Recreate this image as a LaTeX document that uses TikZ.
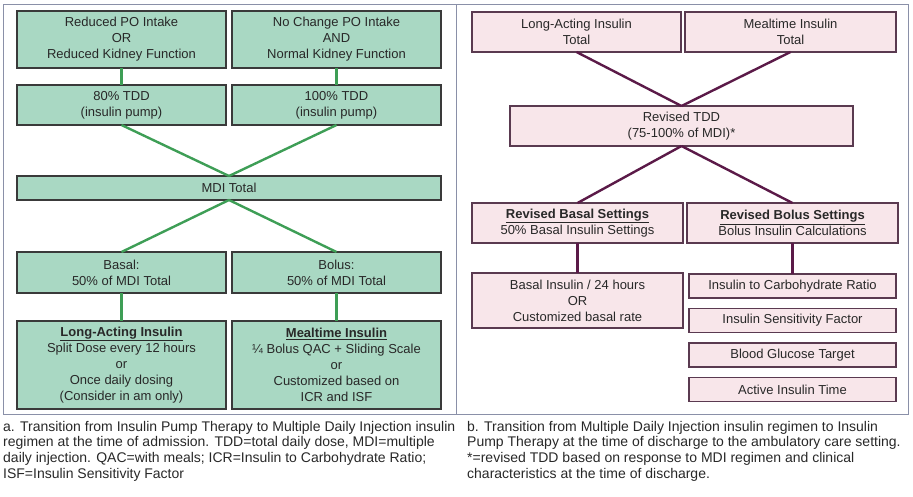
\documentclass[tikz,border=0pt]{standalone}
\usepackage{fontspec}
\setmainfont{Liberation Sans}
\usetikzlibrary{positioning,calc}
\definecolor{mint}{RGB}{169,216,195}
\definecolor{mintline}{RGB}{62,158,86}
\definecolor{blush}{RGB}{248,230,234}
\definecolor{plum}{RGB}{91,26,72}
\definecolor{plumedge}{RGB}{90,58,80}
\definecolor{edge}{RGB}{58,58,58}
\definecolor{frame}{RGB}{138,144,168}
\definecolor{ink}{RGB}{40,40,40}

\begin{document}
\begin{tikzpicture}[
    x=1pt,
    y=-1pt,
    every node/.style={font=\fontsize{13}{16}\selectfont, text=ink},
    box/.style={
        line width=1.3pt,
        inner sep=0pt,
        outer sep=0pt,
        align=center,
        minimum width=209pt
    },
    gbox/.style={box, draw=edge, fill=mint},
    pbox/.style={box, draw=plumedge, fill=blush},
    gline/.style={draw=mintline, line width=2.4pt},
    pline/.style={draw=plum, line width=2.4pt},
    panel/.style={draw=frame, line width=1pt},
    caption/.style={
        font=\fontsize{14}{15.6}\selectfont,
        align=left,
        inner sep=0pt,
        anchor=north west
    }
]

\useasboundingbox (0,0) rectangle (913,496);

% panels
\draw[panel] (3,4) rectangle (456,414);
\draw[panel] (456,4) rectangle (908,414);

% a. pump -> MDI
\node[
    gbox,
    minimum height=57pt,
    anchor=north west
] (reduced) at (17,11)
{Reduced PO Intake\\OR\\Reduced Kidney Function};

\node[
    gbox,
    minimum height=57pt,
    right=6pt of reduced
] (nochange)
{No Change PO Intake\\AND\\Normal Kidney Function};

\node[
    gbox,
    minimum height=40pt,
    below=17pt of reduced
] (tddeighty)
{80\% TDD\\(insulin pump)};

\node[
    gbox,
    minimum height=40pt,
    below=17pt of nochange
] (tddhundred)
{100\% TDD\\(insulin pump)};

\coordinate (tddmid) at ($(tddeighty.south)!0.5!(tddhundred.south)$);

\node[
    gbox,
    minimum width=424pt,
    minimum height=24pt,
    below=51pt of tddmid
] (mditotal)
{MDI Total};

\coordinate (basalref) at (mditotal.south -| tddeighty.south);
\coordinate (bolusref) at (mditotal.south -| tddhundred.south);

\node[
    gbox,
    minimum height=41pt,
    below=52pt of basalref
] (basal)
{Basal:\\50\% of MDI Total};

\node[
    gbox,
    minimum height=41pt,
    below=52pt of bolusref
] (bolus)
{Bolus:\\50\% of MDI Total};

\node[
    gbox,
    minimum height=88pt,
    below=28pt of basal
] (longacting)
{\underline{\textbf{Long-Acting Insulin}}\\Split Dose every 12 hours\\or\\Once daily dosing\\(Consider in am only)};

\node[
    gbox,
    minimum height=88pt,
    below=28pt of bolus
] (mealtime)
{\underline{\textbf{Mealtime Insulin}}\\¼ Bolus QAC + Sliding Scale\\or\\Customized based on\\ICR and ISF};

\draw[gline] (reduced) -- (tddeighty);
\draw[gline] (nochange) -- (tddhundred);
\draw[gline] (tddeighty.south) -- (mditotal.north);
\draw[gline] (tddhundred.south) -- (mditotal.north);
\draw[gline] (mditotal.south) -- (basal.north);
\draw[gline] (mditotal.south) -- (bolus.north);
\draw[gline] (basal) -- (longacting);
\draw[gline] (bolus) -- (mealtime);

% b. MDI -> pump
\node[
    pbox,
    minimum height=40pt,
    anchor=north west
] (longtotal) at (472,12)
{Long-Acting Insulin\\Total};

\node[
    pbox,
    minimum width=211pt,
    minimum height=40pt,
    right=4pt of longtotal
] (mealtotal)
{Mealtime Insulin\\Total};

\node[
    pbox,
    minimum width=343pt,
    minimum height=40pt,
    anchor=north
] (revised) at (681.5,106)
{Revised TDD\\(75-100\% of MDI)*};

\node[
    pbox,
    minimum width=211pt,
    minimum height=40pt,
    anchor=north west
] (basalset) at (472,203)
{\underline{\textbf{Revised Basal Settings}}\\50\% Basal Insulin Settings};

\node[
    pbox,
    minimum width=211pt,
    minimum height=40pt,
    right=4pt of basalset
] (bolusset)
{\underline{\textbf{Revised Bolus Settings}}\\Bolus Insulin Calculations};

\node[
    pbox,
    minimum width=211pt,
    minimum height=55pt,
    below=30pt of basalset
] (basalrate)
{Basal Insulin / 24 hours\\OR\\Customized basal rate};

\node[
    pbox,
    minimum width=207pt,
    minimum height=24pt,
    below=31pt of bolusset
] (carbratio)
{Insulin to Carbohydrate Ratio};

\node[
    pbox,
    minimum width=207pt,
    minimum height=24pt,
    below=10.5pt of carbratio
] (sensitivity)
{Insulin Sensitivity Factor};

\node[
    pbox,
    minimum width=207pt,
    minimum height=24pt,
    below=10.5pt of sensitivity
] (glucose)
{Blood Glucose Target};

\node[
    pbox,
    minimum width=207pt,
    minimum height=24pt,
    below=10.5pt of glucose
] (activetime)
{Active Insulin Time};

\draw[pline] (longtotal.south) -- (revised.north);
\draw[pline] (mealtotal.south) -- (revised.north);
\draw[pline] (revised.south) -- (basalset.north);
\draw[pline] (revised.south) -- (bolusset.north);
\draw[pline] (basalset) -- (basalrate);
\draw[pline] (bolusset) -- (carbratio);

% captions
\node[caption] (captiona) at (3,421)
{a. Transition from Insulin Pump Therapy to Multiple Daily Injection insulin\\
regimen at the time of admission. TDD=total daily dose, MDI=multiple\\
daily injection. QAC=with meals; ICR=Insulin to Carbohydrate Ratio;\\
ISF=Insulin Sensitivity Factor};

\node[caption] (captionb) at (467,421)
{b. Transition from Multiple Daily Injection insulin regimen to Insulin\\
Pump Therapy at the time of discharge to the ambulatory care setting.\\
*=revised TDD based on response to MDI regimen and clinical\\
characteristics at the time of discharge.};

\end{tikzpicture}
\end{document}
